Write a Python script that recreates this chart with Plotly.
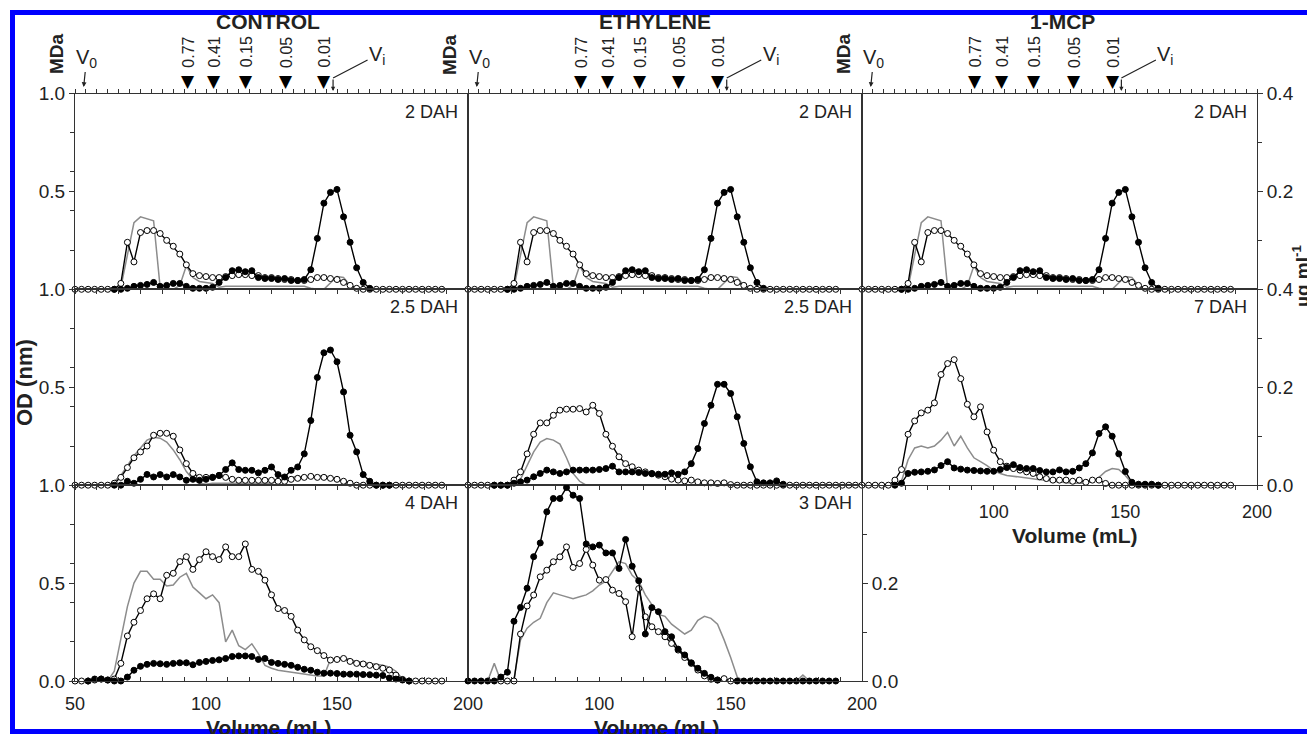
import plotly.graph_objects as go

N = None
VOLUME = [50.0, 52.5, 55.0, 57.5, 60.0, 62.5, 65.0, 67.5, 70.0, 72.5,
          75.0, 77.5, 80.0, 82.5, 85.0, 87.5, 90.0, 92.5, 95.0, 97.5,
          100.0, 102.5, 105.0, 107.5, 110.0, 112.5, 115.0, 117.5, 120.0, 122.5,
          125.0, 127.5, 130.0, 132.5, 135.0, 137.5, 140.0, 142.5, 145.0, 147.5,
          150.0, 152.5, 155.0, 157.5, 160.0, 162.5, 165.0, 167.5, 170.0, 172.5,
          175.0, 177.5, 180.0, 182.5, 185.0, 187.5, 190.0, 192.5, 195.0, 197.5]

# ---- 2 DAH (same in all three treatments)
DAH2_OPEN = [0, 0, 0, 0, 0, 0, 0, 0.03, 0.24, 0.14,
             0.29, 0.30, 0.30, 0.285, 0.25, 0.22, 0.18, 0.125, 0.08, 0.07,
             0.065, 0.06, 0.06, 0.065, 0.07, 0.075, 0.075, 0.07, 0.07, 0.06,
             0.06, 0.055, 0.05, 0.05, 0.045, 0.045, 0.05, 0.06, 0.06, 0.055,
             0.05, 0.035, 0.02, 0.005, 0, 0, 0, 0, 0, 0,
             0, 0, 0, 0, 0, 0, 0, N, N, N]
DAH2_FILLED = [N, N, N, N, N, N, 0, 0, 0.005, 0.015,
               0.02, 0.025, 0.035, 0.015, 0.02, 0.03, 0.03, 0.015, 0.005, 0.005,
               0.005, 0.01, 0.035, 0.06, 0.095, 0.10, 0.09, 0.095, 0.06, 0.055,
               0.055, 0.05, 0.055, 0.045, 0.045, 0.05, 0.10, 0.26, 0.44, 0.495,
               0.51, 0.37, 0.24, 0.11, 0.035, 0.005, N, N, N, N,
               N, N, N, N, N, N, N, N, N, N]
DAH2_GRAY = [0, 0, 0, 0, 0, 0, 0, 0.01, 0.18, 0.34,
             0.37, 0.36, 0.35, 0.01, 0, 0, 0.02, 0.12, 0.06, 0.04,
             0.035, 0.03, 0.01, 0.015, 0.015, 0.015, 0.015, 0.015, 0.015, 0.015,
             0.015, 0.015, 0.015, 0.015, 0.015, 0.015, 0.005, 0, 0, 0.03,
             0.065, 0.06, 0.02, 0, 0, 0, 0, 0, 0, 0,
             0, 0, 0, 0, 0, 0, 0, N, N, N]

# ---- CONTROL 2.5 DAH
CTRL25_OPEN = [0, 0, 0, 0, 0, 0, 0.01, 0.04, 0.09, 0.14,
               0.17, 0.20, 0.255, 0.265, 0.265, 0.25, 0.18, 0.11, 0.06, 0.04,
               0.04, 0.04, 0.05, 0.04, 0.03, 0.025, 0.025, 0.025, 0.025, 0.025,
               0.025, 0.02, 0.02, 0.03, 0.035, 0.04, 0.045, 0.04, 0.04, 0.035,
               0.03, 0.02, 0.01, 0, 0, 0, 0, 0, 0, 0,
               0, 0, 0, 0, 0, 0, 0, N, N, N]
CTRL25_FILLED = [N, N, N, N, N, N, 0, 0, 0.02, 0.01,
                 0.03, 0.055, 0.042, 0.054, 0.042, 0.054, 0.042, 0.025, 0.03, 0.025,
                 0.03, 0.04, 0.05, 0.08, 0.114, 0.08, 0.076, 0.076, 0.063, 0.076,
                 0.093, 0.054, 0.042, 0.076, 0.093, 0.16, 0.33, 0.55, 0.676, 0.69,
                 0.63, 0.476, 0.255, 0.17, 0.054, 0.02, 0, 0, 0, N,
                 N, N, N, N, N, N, N, N, N, N]
CTRL25_GRAY = [0, 0, 0, 0, 0, 0, 0.02, 0.05, 0.10, 0.15,
               0.19, 0.23, 0.245, 0.24, 0.22, 0.18, 0.13, 0.07, 0.03, 0.01,
               0.005, 0.01, 0.01, 0.01, 0.01, 0.01, 0.01, 0.01, 0.01, 0.01,
               0.01, 0.02, 0.03, 0.04, 0.045, 0.04, 0.04, 0.045, 0.05, 0.04,
               0.03, 0.015, 0, 0, 0, 0, 0, 0, 0, 0,
               0, 0, 0, 0, 0, 0, 0, N, N, N]

# ---- CONTROL 4 DAH
CTRL4_OPEN = [0, 0, 0, 0.005, 0.01, 0.005, 0.01, 0.09, 0.23, 0.30,
              0.36, 0.42, 0.445, 0.42, 0.54, 0.55, 0.61, 0.635, 0.57, 0.62,
              0.66, 0.635, 0.62, 0.685, 0.635, 0.635, 0.70, 0.57, 0.56, 0.515,
              0.44, 0.37, 0.36, 0.33, 0.26, 0.21, 0.175, 0.155, 0.13, 0.107,
              0.11, 0.115, 0.10, 0.09, 0.087, 0.08, 0.073, 0.065, 0.056, 0.03,
              0.008, 0, 0, 0, 0, 0, 0, N, N, N]
CTRL4_FILLED = [N, N, 0, 0.01, 0.01, 0.005, 0, 0, 0.02, 0.055,
                0.075, 0.085, 0.09, 0.088, 0.085, 0.09, 0.093, 0.093, 0.083, 0.095,
                0.10, 0.105, 0.108, 0.115, 0.125, 0.128, 0.128, 0.125, 0.11, 0.115,
                0.095, 0.09, 0.085, 0.08, 0.07, 0.06, 0.055, 0.045, 0.04, 0.04,
                0.038, 0.035, 0.035, 0.035, 0.033, 0.032, 0.03, 0.028, 0.015, 0.01,
                0.005, 0, N, N, N, N, N, N, N, N]
CTRL4_GRAY = [0, 0, 0, 0, 0, 0, 0.05, 0.22, 0.38, 0.50,
              0.56, 0.56, 0.52, 0.52, 0.485, 0.49, 0.53, 0.55, 0.48, 0.45,
              0.42, 0.44, 0.40, 0.20, 0.26, 0.18, 0.16, 0.19, 0.14, 0.08,
              0.065, 0.055, 0.05, 0.045, 0.04, 0.035, 0.03, 0.025, 0.025, 0.11,
              0.115, 0.12, 0.11, 0.10, 0.095, 0.09, 0.085, 0.08, 0.07, 0.05,
              0.01, 0, 0, 0, 0, 0, 0, N, N, N]

# ---- ETHYLENE 2.5 DAH
ETH25_OPEN = [0, 0, 0, 0, 0, 0, 0, 0.026, 0.068, 0.16,
              0.26, 0.318, 0.318, 0.357, 0.383, 0.388, 0.388, 0.391, 0.374, 0.408,
              0.366, 0.26, 0.199, 0.145, 0.11, 0.094, 0.077, 0.068, 0.06, 0.051,
              0.043, 0.031, 0.026, 0.022, 0.026, 0.017, 0.012, 0.012, 0.009, 0.012,
              0.003, 0, 0, 0, 0, 0, 0, 0, 0, 0,
              0, 0, 0, 0, 0, 0, 0, 0, 0, 0]
ETH25_FILLED = [N, N, N, N, 0, 0, 0, 0.01, 0.017, 0.026,
                0.043, 0.06, 0.077, 0.068, 0.06, 0.068, 0.077, 0.077, 0.077, 0.077,
                0.08, 0.085, 0.097, 0.068, 0.068, 0.068, 0.065, 0.06, 0.058, 0.056,
                0.056, 0.063, 0.056, 0.068, 0.11, 0.187, 0.315, 0.408, 0.515, 0.515,
                0.468, 0.349, 0.213, 0.094, 0.017, 0.012, 0.012, 0.022, 0.005, N,
                N, N, N, N, N, N, N, N, N, N]
ETH25_GRAY = [0, 0, 0, 0, 0, 0, 0, 0, 0.03, 0.10,
              0.17, 0.22, 0.238, 0.23, 0.21, 0.14, 0.06, 0.02, 0, 0,
              0, 0, 0, 0, 0, 0, 0, 0, 0, 0,
              0, 0, 0, 0, 0, 0, 0, 0, 0, 0,
              0, 0, 0, 0, 0, 0, 0, 0, 0, 0,
              0, 0, 0, 0, 0, 0, 0, N, N, N]

# ---- ETHYLENE 3 DAH
ETH3_OPEN = [N, N, N, N, N, 0, 0, 0, 0.24, 0.383,
             0.439, 0.532, 0.566, 0.609, 0.634, 0.685, 0.58, 0.60, 0.672, 0.592,
             0.515, 0.518, 0.464, 0.447, 0.405, 0.226, 0.472, 0.328, 0.277, 0.252,
             0.226, 0.192, 0.158, 0.12, 0.09, 0.056, 0.026, 0.009, 0.005, 0.012,
             0, N, N, N, N, N, N, N, N, N,
             N, N, N, N, N, N, N, N, N, N]
ETH3_FILLED = [0, 0, 0, 0, 0, 0.02, 0.045, 0.305, 0.376, 0.474,
               0.635, 0.705, 0.864, 0.932, 0.932, 0.988, 0.949, 0.932, 0.70, 0.685,
               0.694, 0.654, 0.654, 0.575, 0.723, 0.586, 0.512, 0.24, 0.375, 0.354,
               0.252, 0.226, 0.163, 0.133, 0.093, 0.065, 0.039, 0.019, 0.005, N,
               N, 0, 0, 0, 0, 0, 0, 0, 0, 0,
               0, 0, 0, 0, 0, 0, 0, N, N, N]
ETH3_GRAY = [0, 0, 0, 0, 0.09, 0, 0, 0.01, 0.21, 0.27,
             0.30, 0.32, 0.40, 0.45, 0.44, 0.43, 0.42, 0.43, 0.44, 0.46,
             0.49, 0.51, 0.56, 0.61, 0.60, 0.54, 0.51, 0.44, 0.39, 0.34,
             0.33, 0.29, 0.265, 0.24, 0.26, 0.31, 0.33, 0.32, 0.29, 0.21,
             0.12, 0.02, 0, 0, 0, 0, 0, 0, 0, 0,
             0, 0.03, 0, 0, 0, 0, 0, N, N, N]

# ---- 1-MCP 7 DAH
MCP7_OPEN = [0, 0, 0, 0, 0, 0.026, 0.08, 0.26, 0.328, 0.369,
             0.383, 0.42, 0.565, 0.621, 0.641, 0.544, 0.413, 0.349, 0.40, 0.272,
             0.179, 0.12, 0.097, 0.085, 0.077, 0.068, 0.06, 0.043, 0.034, 0.026,
             0.026, 0.026, 0.02, 0.026, 0.015, 0.026, 0.026, 0.009, 0, 0,
             0, 0, 0, 0, 0, 0, 0, 0, 0, 0,
             0, 0, 0, 0, 0, 0, 0, N, N, N]
MCP7_FILLED = [N, N, N, N, N, 0, 0.01, 0.06, 0.066, 0.068,
               0.071, 0.078, 0.10, 0.12, 0.088, 0.082, 0.077, 0.075, 0.073, 0.071,
               0.071, 0.08, 0.09, 0.105, 0.09, 0.085, 0.085, 0.075, 0.068, 0.068,
               0.078, 0.068, 0.071, 0.088, 0.11, 0.165, 0.264, 0.298, 0.25, 0.16,
               0.07, 0.015, 0.005, 0.005, 0.005, 0, N, N, N, N,
               N, N, N, N, N, N, N, N, N, N]
MCP7_GRAY = [0, 0, 0, 0, 0, 0, 0.02, 0.13, 0.19, 0.20,
             0.19, 0.20, 0.23, 0.27, 0.20, 0.25, 0.19, 0.14, 0.12, 0.10,
             0.075, 0.06, 0.05, 0.045, 0.04, 0.035, 0.03, 0.028, 0.025, 0.02,
             0.015, 0.012, 0.01, 0.01, 0.01, 0.02, 0.04, 0.07, 0.085, 0.08,
             0.05, 0.01, 0, 0, 0, 0, 0, 0, 0, 0,
             0, 0, 0, 0, 0, 0, 0, N, N, N]

TREATMENTS = ["CONTROL", "ETHYLENE", "1-MCP"]
MW_LABELS = ["0.77", "0.41", "0.15", "0.05", "0.01"]
MW_VOLUMES = [93.0, 103.2, 115.4, 130.5, 145.2]
V0_VOLUME = 53.3
VI_VOLUME = 148.5
X_TICKS = [50, 100, 150, 200]
OD_TICKS = [0.0, 0.5, 1.0]
UG_TICKS = [0.0, 0.2, 0.4]

# (row, col, open, filled, gray, label)
PANELS = [
    (0, 0, DAH2_OPEN, DAH2_FILLED, DAH2_GRAY, "2 DAH"),
    (0, 1, DAH2_OPEN, DAH2_FILLED, DAH2_GRAY, "2 DAH"),
    (0, 2, DAH2_OPEN, DAH2_FILLED, DAH2_GRAY, "2 DAH"),
    (1, 0, CTRL25_OPEN, CTRL25_FILLED, CTRL25_GRAY, "2.5 DAH"),
    (1, 1, ETH25_OPEN, ETH25_FILLED, ETH25_GRAY, "2.5 DAH"),
    (1, 2, MCP7_OPEN, MCP7_FILLED, MCP7_GRAY, "7 DAH"),
    (2, 0, CTRL4_OPEN, CTRL4_FILLED, CTRL4_GRAY, "4 DAH"),
    (2, 1, ETH3_OPEN, ETH3_FILLED, ETH3_GRAY, "3 DAH"),
]
for p in PANELS:
    for s in p[2:5]:
        assert len(s) == len(VOLUME)

# ---------------- layout geometry (pixels)
W, H = 1307, 734
COL_EDGES = [75, 468, 862, 1257]
ROW_EDGES = [93.5, 289.3, 485.2, 681]
COL_OFF = [0, 393, 787]

def fx(px):
    return px / W

def fy(py):
    return 1 - py / H

FONT = "Liberation Sans, Arial, sans-serif"
AX = "#333333"
TXT = "#222222"

fig = go.Figure()
layout = dict(width=W, height=H, margin=dict(l=0, r=0, t=0, b=0, autoexpand=False),
              paper_bgcolor="white", plot_bgcolor="white", showlegend=False,
              font=dict(family=FONT, color=TXT))
ann = []
layout["annotations"] = ann

def ax_name(kind, k):
    return kind if k == 1 else f"{kind}{k}"

def text_ann(text, px, py, size, angle=0, bold=False, xanchor="center", family=FONT,
             color=TXT):
    return dict(text=f"<b>{text}</b>" if bold else text, xref="paper", yref="paper",
                x=fx(px), y=fy(py), xanchor=xanchor, yanchor="middle", showarrow=False,
                textangle=angle, font=dict(size=size, color=color, family=family))

for k, (row, col, op, fi, gr, lab) in enumerate(PANELS, start=1):
    xa, ya = ax_name("x", k), ax_name("y", k)
    fig.add_trace(go.Scatter(x=VOLUME, y=gr, mode="lines", xaxis=xa, yaxis=ya,
                             line=dict(color="#8c8c8c", width=1.5), cliponaxis=False,
                             hoverinfo="skip"))
    fig.add_trace(go.Scatter(x=VOLUME, y=op, mode="lines+markers", xaxis=xa, yaxis=ya,
                             line=dict(color="black", width=1.4), cliponaxis=False,
                             marker=dict(symbol="circle", size=6, color="white",
                                         line=dict(color="black", width=1))))
    fig.add_trace(go.Scatter(x=VOLUME, y=fi, mode="lines+markers", xaxis=xa, yaxis=ya,
                             line=dict(color="black", width=1.4), cliponaxis=False,
                             marker=dict(symbol="circle", size=6, color="black",
                                         line=dict(color="black", width=1))))

    show_xlab = row == 2 or (row == 1 and col == 2)
    tv = X_TICKS if col == 0 else X_TICKS[1:]
    tdir = "inside" if row == 2 else "outside"
    layout["xaxis" if k == 1 else f"xaxis{k}"] = dict(
        domain=[fx(COL_EDGES[col]), fx(COL_EDGES[col + 1])], anchor=ya, range=[50, 200],
        showline=True, linecolor=AX, linewidth=1.3, mirror=True,
        ticks=tdir, ticklen=4, tickwidth=1, tickcolor=AX,
        tickmode="array", tickvals=tv, ticktext=[str(v) for v in tv],
        showticklabels=show_xlab, ticklabelstandoff=6,
        tickfont=dict(size=18, color=TXT, family=FONT),
        minor=dict(tickmode="linear", tick0=50, dtick=25 / 3, ticks=tdir, ticklen=4,
                   tickcolor=AX, showgrid=False),
        showgrid=False, zeroline=False, fixedrange=True)

    ycfg = dict(domain=[fy(ROW_EDGES[row + 1]), fy(ROW_EDGES[row])], anchor=xa,
                range=[0, 1], showline=True, linecolor=AX, linewidth=1.3, mirror=True,
                showgrid=False, zeroline=False, fixedrange=True)
    if col == 0:
        yv = OD_TICKS if row == 2 else OD_TICKS[1:]
        ycfg.update(ticks="outside", ticklen=5, tickcolor=AX, tickmode="array",
                    tickvals=yv, ticktext=[f"{v:.1f}" for v in yv],
                    tickfont=dict(size=19, color=TXT, family=FONT),
                    minor=dict(tickmode="linear", tick0=0, dtick=0.2, ticks="outside",
                               ticklen=4, tickcolor=AX, showgrid=False))
    else:
        ycfg.update(ticks="", showticklabels=False)
    layout["yaxis" if k == 1 else f"yaxis{k}"] = ycfg

    ann.append(text_ann(lab, COL_EDGES[col + 1] - 8, ROW_EDGES[row] + 18, 18,
                        xanchor="right"))

# right-hand ug/ml axes
RIGHT = [(9, 3, UG_TICKS[1:]), (10, 6, UG_TICKS), (11, 8, UG_TICKS[:2])]
for k, base, tv in RIGHT:
    layout[f"yaxis{k}"] = dict(overlaying=f"y{base}", anchor=f"x{base}", side="right",
                               range=[0, 0.4], showline=False, ticks="outside", ticklen=5,
                               tickcolor=AX, tickmode="array", tickvals=tv,
                               ticktext=[f"{v:.1f}" for v in tv],
                               tickfont=dict(size=19, color=TXT, family=FONT),
                               minor=dict(tickmode="linear", tick0=0, dtick=0.1,
                                          ticks="outside", ticklen=4, tickcolor=AX,
                                          showgrid=False),
                               showgrid=False, zeroline=False, fixedrange=True)
    fig.add_trace(go.Scatter(x=[50], y=[0], xaxis=f"x{base}", yaxis=f"y{k}",
                             mode="markers", marker=dict(opacity=0), hoverinfo="skip"))

# top (MDa) tick axes on the first row
for k, base in [(9, 1), (10, 2), (11, 3)]:
    bx = "x" if base == 1 else f"x{base}"
    by = "y" if base == 1 else f"y{base}"
    layout[f"xaxis{k}"] = dict(overlaying=bx, anchor=by, side="top", range=[50, 200],
                               showline=False, ticks="outside", ticklen=4, tickcolor=AX,
                               tickmode="linear", tick0=50, dtick=25 / 6,
                               showticklabels=False, showgrid=False, zeroline=False,
                               fixedrange=True)
    fig.add_trace(go.Scatter(x=[50], y=[0], xaxis=f"x{k}", yaxis=by,
                             mode="markers", marker=dict(opacity=0), hoverinfo="skip"))

TITLE_X = [268, 655, 1062]
for c, name in enumerate(TREATMENTS):
    xr = "x" if c == 0 else f"x{c + 1}"
    off = COL_OFF[c]
    ann.append(text_ann(name, TITLE_X[c], 21, 21, bold=True))
    ann.append(text_ann("MDa", 57 + off, 54, 19, angle=-90, bold=True))
    ann.append(dict(text="V<sub>0</sub>", xref=xr, yref="paper", x=V0_VOLUME, y=fy(87),
                    ax=3, ay=-29, showarrow=True, arrowhead=2, arrowsize=0.8,
                    arrowwidth=1.2, arrowcolor=TXT, xanchor="center", yanchor="middle",
                    font=dict(size=20, color=TXT, family=FONT)))
    for lab, vol in zip(MW_LABELS, MW_VOLUMES):
        ann.append(dict(text="▼", xref=xr, yref="paper", x=vol, y=fy(81),
                        xanchor="center", yanchor="middle", showarrow=False,
                        font=dict(size=17, color="black", family="DejaVu Sans")))
        ann.append(dict(text=lab, xref=xr, yref="paper", x=vol, y=fy(52),
                        xanchor="center", yanchor="middle", showarrow=False,
                        textangle=-90, font=dict(size=16, color=TXT, family=FONT)))
    ann.append(dict(text="V<sub>i</sub>", xref=xr, yref="paper", x=VI_VOLUME, y=fy(78),
                    ax=44, ay=-23, showarrow=True, arrowhead=0, arrowwidth=1.2,
                    arrowcolor=TXT, xanchor="center", yanchor="middle",
                    font=dict(size=20, color=TXT, family=FONT)))
    ann.append(dict(text="", xref=xr, yref="paper", x=VI_VOLUME, y=fy(91),
                    ax=0, ay=-13, showarrow=True, arrowhead=2, arrowsize=0.7,
                    arrowwidth=1.2, arrowcolor=TXT))

for px, py in [(269, 727), (657, 727), (1075, 535)]:
    ann.append(text_ann("Volume (mL)", px, py, 21, bold=True))
ann.append(text_ann("OD (nm)", 24, 383, 22, angle=-90, bold=True))
ann.append(text_ann("µg ml<sup>-1</sup>", 1301, 276, 19, angle=-90, bold=True))

BLUE = "#0000ff"
layout["shapes"] = [
    dict(type="line", xref="paper", yref="paper", x0=fx(10), x1=fx(1400),
         y0=fy(12.5), y1=fy(12.5), line=dict(color=BLUE, width=5), layer="above"),
    dict(type="line", xref="paper", yref="paper", x0=fx(10), x1=fx(1400),
         y0=fy(731.5), y1=fy(731.5), line=dict(color=BLUE, width=5), layer="above"),
    dict(type="line", xref="paper", yref="paper", x0=fx(12.5), x1=fx(12.5),
         y0=fy(734), y1=fy(10), line=dict(color=BLUE, width=5), layer="above"),
]

fig.update_layout(**layout)
fig.write_html("out.html")
